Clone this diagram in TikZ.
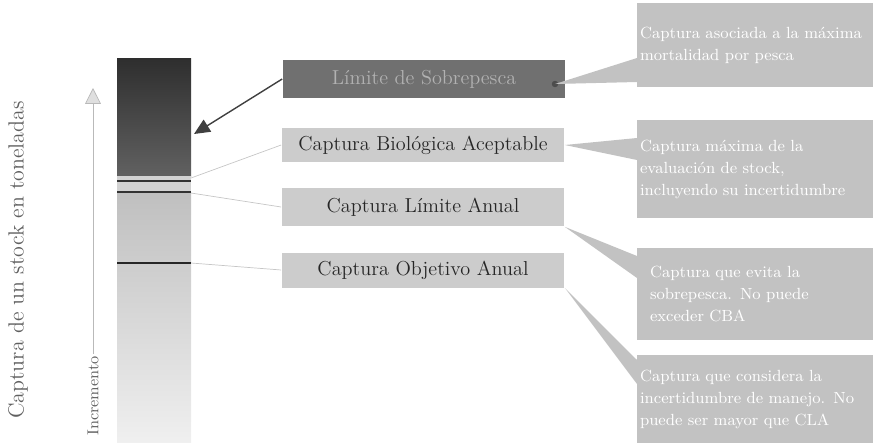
\documentclass[tikz,border=0pt]{standalone}
\usetikzlibrary{arrows.meta}
\tikzset{
  caja/.style={fill=black!20, minimum width=5.66cm, minimum height=0.7cm, inner sep=0pt,
    font=\fontsize{11.5}{13}\selectfont, text=black!85},
  nota/.style={fill=black!24, text=white, align=left, text width=4.6cm,
    minimum width=4.72cm, inner sep=2pt, font=\fontsize{9.2}{12.5}\selectfont},
  cuna/.style={fill=black!24},
  guia/.style={gray!45, thin}
}
\begin{document}
\begin{tikzpicture}[x=0.02cm,y=-0.02cm]
        \useasboundingbox (0,0) rectangle (873,443);
        \shade[top color=black!82, bottom color=black!62] (117,58) rectangle (191,176);
        \fill[gray!35] (117,176) rectangle (191,192);
        \shade[top color=gray!50, bottom color=gray!12] (117,192) rectangle (191,443);
        \draw[black!80, line width=1.4pt] (117,181) -- (191,181);
        \draw[black!80, line width=1.4pt] (117,192) -- (191,192);
        \draw[black!85, line width=1.4pt] (117,263) -- (191,263);
        \node[rotate=90, text=gray!75!black, font=\fontsize{12.5}{14}\selectfont] (eje) at (18,260) {Captura de un stock en toneladas};
        \node[rotate=90, text=gray!75!black, font=\fontsize{9}{11}\selectfont, inner sep=1pt] (inc) at (93,396) {Incremento};
        \coordinate (tope) at (93,88);
        \draw[gray!55, -{Triangle[width=9pt,length=9pt,fill=gray!25]}] (inc.east) -- (tope);
        \node[caja, fill=black!56, minimum height=0.76cm, text=black!30] (LS) at (424,79) {L\'imite de Sobrepesca};
        \node[circle, fill=black!70, inner sep=1.3pt] (punto) at (555,84) {};
        \node[caja, minimum height=0.68cm] (CBA) at (423,145) {Captura Biol\'ogica Aceptable};
        \node[caja, minimum height=0.78cm] (CLA) at (423,207) {Captura L\'imite Anual};
        \node[caja] (COA) at (423,270) {Captura Objetivo Anual};
        \coordinate (barra) at (194,134);
        \draw[gray!50!black, thick, -{Triangle[width=8pt,length=9pt]}] (LS.west) -- (barra);
        \coordinate (b1) at (191,178);
        \coordinate (b2) at (191,193);
        \coordinate (b3) at (191,263);
        \draw[guia] (b1) -- (CBA.west);
        \draw[guia] (b2) -- (CLA.west);
        \draw[guia] (b3) -- (COA.west);
        \node[nota, minimum height=1.7cm] (N1) at (755,45) {Captura asociada a la m\'axima\\ mortalidad por pesca};
        \node[nota, minimum height=1.96cm] (N2) at (755,169) {Captura m\'axima de la\\ evaluaci\'on de stock,\\ incluyendo su incertidumbre};
        \node[nota, minimum height=1.84cm, text width=4.2cm] (N3) at (755,294) {Captura que evita la\\ sobrepesca. No puede\\ exceder CBA};
        \node[nota, minimum height=1.76cm] (N4) at (755,399) {Captura que considera la\\ incertidumbre de manejo. No\\ puede ser mayor que CLA};
        \fill[cuna] (punto.center) -- (637,58) -- (637,82) -- cycle;
        \fill[cuna] (CBA.east) -- (637,138) -- (637,160) -- cycle;
        \fill[cuna] (CLA.south east) -- (637,256) -- (637,278) -- cycle;
        \fill[cuna] (COA.south east) -- (637,360) -- (637,384) -- cycle;
      \end{tikzpicture}
\end{document}
